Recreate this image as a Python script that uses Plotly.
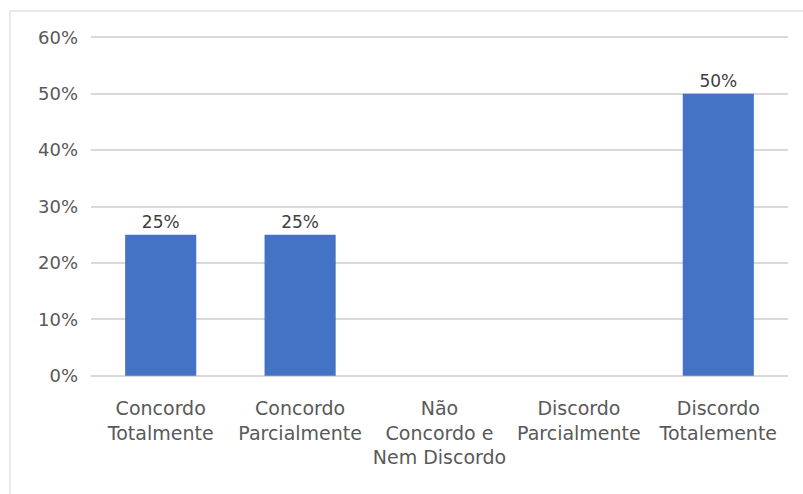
import plotly.graph_objects as go

categories = ["Concordo<br>Totalmente", "Concordo<br>Parcialmente", "Não<br>Concordo e<br>Nem Discordo",
              "Discordo<br>Parcialmente", "Discordo<br>Totalemente"]
values = [0.25, 0.25, 0.0, 0.0, 0.50]
labels = ["25%", "25%", "", "", "50%"]
y_ticks = [0, 0.1, 0.2, 0.3, 0.4, 0.5, 0.6]
y_ticktext = ["0%", "10%", "20%", "30%", "40%", "50%", "60%"]

FONT = "DejaVu Sans"

fig = go.Figure(go.Bar(
    x=list(range(len(categories))),
    y=values,
    text=labels,
    textposition="outside",
    textfont=dict(family=FONT, size=17, color="#404040"),
    cliponaxis=False,
    marker=dict(color="#4472C4", line=dict(width=0)),
))

fig.update_layout(
    width=803, height=494,
    margin=dict(l=91, r=15, t=35, b=116),
    paper_bgcolor="white", plot_bgcolor="white",
    bargap=0.49,
    showlegend=False,
    font=dict(family=FONT, color="#595959"),
    xaxis=dict(
        tickmode="array", tickvals=list(range(len(categories))), ticktext=categories,
        range=[-0.5, len(categories) - 0.5],
        showgrid=False, zeroline=False, showline=False, ticks="",
        tickfont=dict(family=FONT, size=19, color="#595959"),
        tickangle=0,
        ticklabelstandoff=17,
    ),
    yaxis=dict(
        range=[-0.004, 0.604], tickvals=y_ticks, ticktext=y_ticktext,
        showgrid=True, gridcolor="#d9d9d9", gridwidth=1.5,
        zeroline=False, showline=False, ticks="",
        tickfont=dict(family=FONT, size=18, color="#595959"),
        ticklabelstandoff=12,
    ),
    shapes=[
        dict(type="line", xref="paper", yref="paper",
             x0=(10 - 91) / 697, x1=1.03, y0=1 + 24 / 343, y1=1 + 24 / 343,
             line=dict(color="#e0e0e0", width=1.5)),
        dict(type="line", xref="paper", yref="paper",
             x0=(10 - 91) / 697, x1=(10 - 91) / 697, y0=1 + 24 / 343, y1=-0.36,
             line=dict(color="#e0e0e0", width=1.5)),
    ],
)

fig.write_html("out.html")
